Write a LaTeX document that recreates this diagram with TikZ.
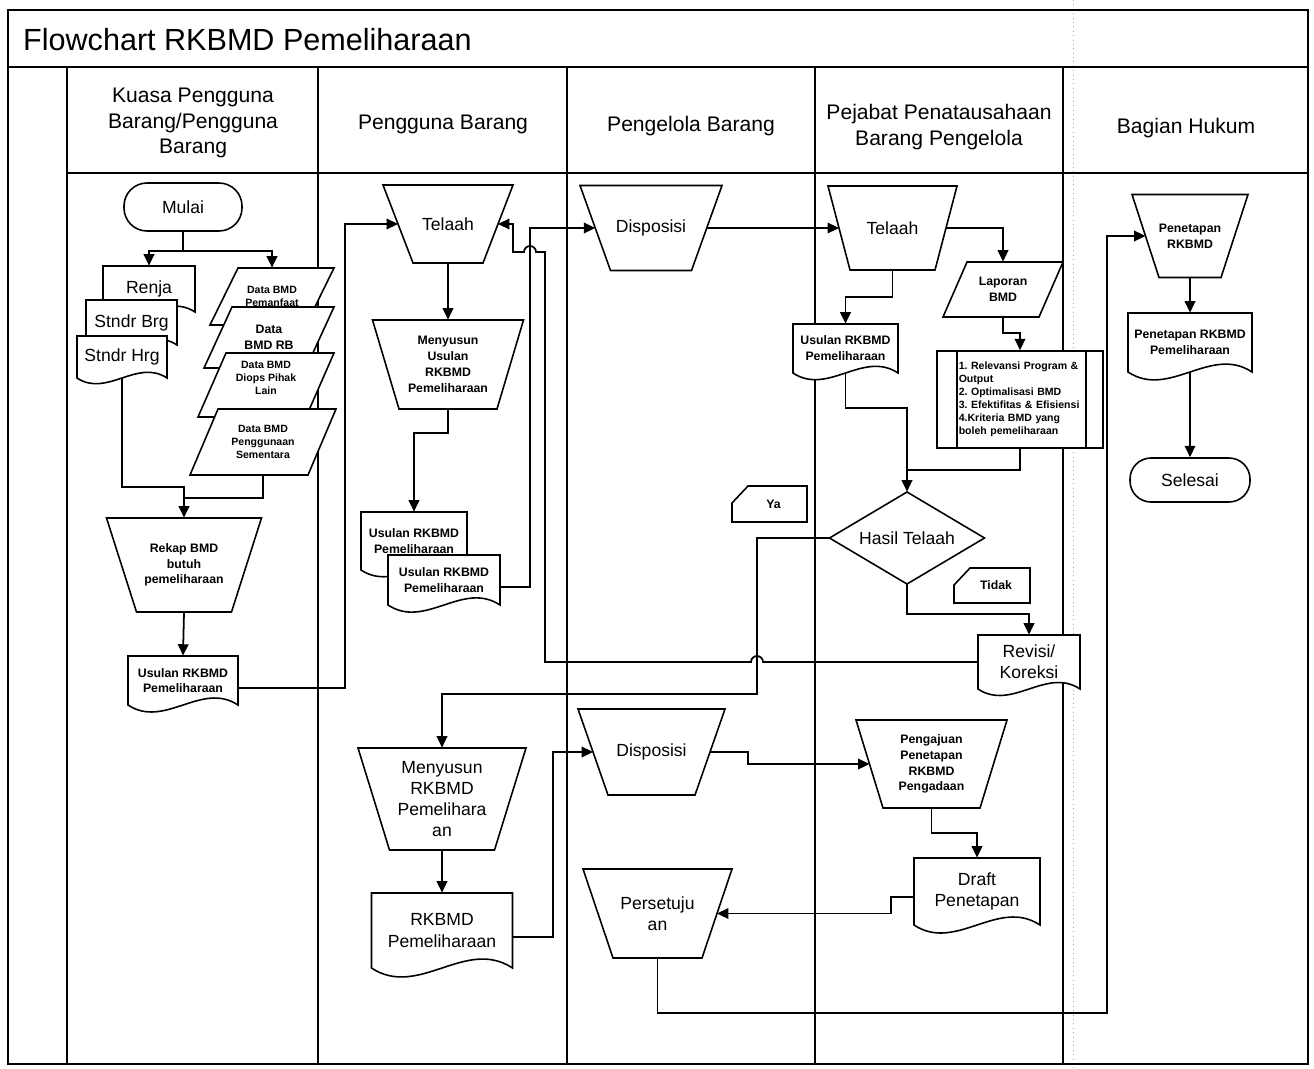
\documentclass[tikz,border=0pt]{standalone}
\usepackage{fontspec}
\setmainfont{Liberation Sans}
\usetikzlibrary{arrows.meta,calc}
\frenchspacing

\newcommand\ftitle{\fontsize{17.4}{20}\selectfont}
\newcommand\fhead{\fontsize{12}{14.4}\selectfont}
\newcommand\fmid{\fontsize{10}{12}\selectfont}
\newcommand\fsmall{\fontsize{7}{9}\selectfont\bfseries}
\newcommand\ftiny{\fontsize{6}{7.4}\selectfont\bfseries}

\tikzset{
  shp/.style={draw, fill=white, line width=0.9pt, line join=miter},
  tbox/.style={inner sep=0pt, align=center},
  conn/.style={line width=1pt},
  arr/.style={conn, -{Triangle[length=6.5pt,width=6pt]}},
  frame/.style={line width=1pt},
}

% manual operation (trapezoid, wide top): name cx cy wtop wbot h style text
\newcommand\mop[8]{%
  \filldraw[shp] ({#2-#4/2},{#3-#6/2}) -- ({#2+#4/2},{#3-#6/2}) -- ({#2+#5/2},{#3+#6/2}) -- ({#2-#5/2},{#3+#6/2}) -- cycle;
  \node[tbox, minimum width={#4*0.02cm}, minimum height={#6*0.02cm}, #7] (#1) at (#2,#3) {#8};
  \coordinate (#1w) at ({#2-(#4+#5)/4},#3);
  \coordinate (#1e) at ({#2+(#4+#5)/4},#3);
}
% document: name cx cy w h style text
\newcommand\docu[7]{%
  \filldraw[shp] ({#2-#4/2},{#3+#5/2}) -- ({#2-#4/2},{#3-#5/2}) -- ({#2+#4/2},{#3-#5/2}) -- ({#2+#4/2},{#3+#5/2}) .. controls ({#2+#4/6},{#3+#5/2-0.22*#4}) and ({#2-#4/6},{#3+#5/2+0.22*#4}) .. ({#2-#4/2},{#3+#5/2}) -- cycle;
  \node[tbox, minimum width={#4*0.02cm}, minimum height={#5*0.02cm}, #6] (#1) at (#2,#3) {#7};
}
% data (parallelogram): name cx cy w h slant style text
\newcommand\para[8]{%
  \filldraw[shp] ({#2-(#4+#6)/2},{#3+#5/2}) -- ({#2-(#4+#6)/2+#6},{#3-#5/2}) -- ({#2+(#4+#6)/2},{#3-#5/2}) -- ({#2+(#4+#6)/2-#6},{#3+#5/2}) -- cycle;
  \node[tbox, minimum width={(#4+#6)*0.02cm}, minimum height={#5*0.02cm}, #7] (#1) at (#2,#3) {#8};
}
% card label: name x1 y1 x2 y2 text
\newcommand\card[6]{%
  \filldraw[shp] (#2,{#3+17}) -- ({#2+16},#3) -- (#4,#3) -- (#4,#5) -- (#2,#5) -- cycle;
  \node[tbox, font=\fsmall] (#1) at ({(#2+#4)/2+4},{(#3+#5)/2}) {#6};
}

\begin{document}
\begin{tikzpicture}[x=0.02cm, y=-0.02cm]
\useasboundingbox (0,0) rectangle (1314,1068);

% frame and swimlanes
\draw[gray!70, dotted, line width=0.5pt] (1073,0) -- (1073,1068);
\draw[frame] (8,10) rectangle (1308,1064);
\draw[frame] (8,67) -- (1308,67);
\draw[frame] (67,173) -- (1308,173);
\foreach \x in {67,318,567,815,1063} \draw[frame] (\x,67) -- (\x,1064);

\node[anchor=west, font=\ftitle] (title) at (17,40) {Flowchart RKBMD Pemeliharaan};
\node[font=\fhead, align=center] (hk) at (193,123) {Kuasa Pengguna\\Barang/Pengguna\\Barang};
\node[font=\fhead] (hp) at (443,124) {Pengguna Barang};
\node[font=\fhead] (hg) at (691,126) {Pengelola Barang};
\node[font=\fhead, align=center] (hj) at (939,127) {Pejabat Penatausahaan\\Barang Pengelola};
\node[font=\fhead] (hb) at (1186,128) {Bagian Hukum};

% column 1
\node[shp, rounded corners=0.46cm, minimum width=2.36cm, minimum height=0.96cm, font=\fmid] (mulai) at (183,207) {Mulai};
\docu{renja}{149}{289}{92}{46}{font=\fmid}{Renja}
\docu{brg}{131.5}{322.5}{91}{45}{font=\fmid}{Stndr Brg}
\docu{hrg}{122}{357}{90}{42}{font=\fmid}{Stndr Hrg}
\para{p1}{272}{296.5}{96}{57}{28}{font=\ftiny}{Data BMD\\Pemanfaat}
\para{p2}{269}{337.5}{102}{61}{28}{font=\fsmall}{Data\\BMD RB}
\para{p3}{266}{385}{108}{64}{28}{font=\ftiny, yshift=0.14cm}{Data BMD\\Diops Pihak\\Lain}
\para{p4}{263}{442}{118}{66}{28}{font=\ftiny}{Data BMD\\Penggunaan\\Sementara}
\mop{rekap}{184}{565}{155}{95}{94}{font=\fsmall}{Rekap BMD\\butuh\\pemeliharaan}
\docu{us0}{183}{680.5}{110}{49}{font=\fsmall}{Usulan RKBMD\\Pemeliharaan}

% column 2
\mop{tl1}{448}{224}{130}{70}{78}{font=\fmid}{Telaah}
\mop{mu}{448}{364.5}{151}{98}{89}{font=\fsmall}{Menyusun\\Usulan\\RKBMD\\Pemeliharaan}
\docu{ua}{414}{541}{106}{58}{font=\fsmall}{Usulan RKBMD\\Pemeliharaan}
\docu{ub}{444}{580}{112}{50}{font=\fsmall}{Usulan RKBMD\\Pemeliharaan}
\mop{mr}{442}{799}{168}{105}{102}{font=\fmid}{Menyusun\\RKBMD\\Pemelihara\\an}
\docu{rk}{442}{930.5}{141}{75}{font=\fmid}{RKBMD\\Pemeliharaan}

% column 3
\mop{dsa}{651}{228}{142}{81}{85}{font=\fmid}{Disposisi}
\mop{dsb}{651.5}{752}{147}{87}{86}{font=\fmid}{Disposisi}
\mop{ps}{657.5}{913.5}{149}{89}{89}{font=\fmid}{Persetuju\\an}
\card{ya}{732}{486}{807}{522}{Ya}

% column 4
\mop{tlb}{892.5}{228}{129}{85}{84}{font=\fmid}{Telaah}
\para{lap}{1003}{289.5}{96}{55}{24}{font=\fsmall}{Laporan\\BMD}
\docu{uc}{845.5}{348.5}{105}{49}{font=\fsmall}{Usulan RKBMD\\Pemeliharaan}
\node[shp, inner sep=0pt, minimum width=3.32cm, minimum height=1.94cm, text width=2.45cm, align=left, font=\ftiny] (box) at (1020,399.5)
  {1. Relevansi Program \&\\Output\\2. Optimalisasi BMD\\3. Efektifitas \& Efisiensi\\4.Kriteria BMD yang\\boleh pemeliharaan};
\draw[line width=0.9pt] ([xshift=0.42cm]box.north west) -- ([xshift=0.42cm]box.south west);
\draw[line width=0.9pt] ([xshift=-0.36cm]box.north east) -- ([xshift=-0.36cm]box.south east);
\filldraw[shp] (829.5,538) -- (907,492) -- (984.5,538) -- (907,584) -- cycle;
\node[tbox, minimum width=3.1cm, minimum height=1.84cm, font=\fmid] (dia) at (907,538) {Hasil Telaah};
\card{tdk}{954}{568}{1030}{603}{Tidak}
\docu{rv}{1029}{662}{102}{54}{font=\fmid}{Revisi/\\Koreksi}
\mop{pj}{931.5}{764}{151}{97}{88}{font=\fsmall}{Pengajuan\\Penetapan\\RKBMD\\Pengadaan}
\docu{dr}{977}{891.5}{126}{67}{font=\fmid}{Draft\\Penetapan}

% column 5
\mop{pn}{1190}{236}{116}{62}{83}{font=\fsmall}{Penetapan\\RKBMD}
\docu{pd}{1190}{342.5}{124}{59}{font=\fsmall}{Penetapan RKBMD\\Pemeliharaan}
\node[shp, rounded corners=0.42cm, minimum width=2.4cm, minimum height=0.88cm, font=\fmid] (sel) at (1190,480) {Selesai};

% connectors
\draw[arr] (mulai.south) -- ++(0,19) -| (renja.north);
\draw[arr] (mulai.south) -- ++(0,19) -| (p1.north);
\draw[arr] (hrg.south) -- (hrg.south |- 0,487) -| (rekap.north);
\draw[conn] (p4.south) |- (rekap.north |- 0,498);
\draw[arr] (rekap.south) -- (us0.north);
\draw[arr] ([yshift=-0.15cm]us0.east) -- ++(107,0) |- (tl1w);
\draw[arr] (tl1.south) -- (mu.north);
\draw[arr] (mu.south) -- ++(0,24) -| (ua.north);
\draw[arr] ([yshift=-0.14cm]ub.east) -- ++(30,0) |- (dsaw);
\draw[arr] (rv.west) -- (763,662) arc[start angle=0, end angle=180, radius=0.12cm] -- (545,662) -- (545,252) -- (536,252) arc[start angle=0, end angle=180, radius=0.12cm] -- (513,252) -- (513,224) -- (tl1e);
\draw[arr] (dsae) -- (tlbw);
\draw[arr] (tlbe) -| (lap.north);
\draw[arr] (tlb.south) -- ++(0,27) -| (uc.north);
\draw[arr] (lap.south) -- ++(0,16) -| (box.north);
\draw[arr] (uc.south) -- ++(0,35) -| (dia.north);
\draw[conn] (box.south) |- (dia.north |- 0,470);
\draw[arr] (dia.west) -- (757,538) -- (757,694) -| (mr.north);
\draw[arr] (dia.south) -- ++(0,30) -| (rv.north);
\draw[arr] (mr.south) -- (rk.north);
\draw[arr] ([yshift=-0.13cm]rk.east) -- ++(40,0) |- (dsbw);
\draw[arr] (dsbe) -- ++(38,0) |- (pjw);
\draw[arr] (pj.south) -- ++(0,25) -| (dr.north);
\draw[arr] ([yshift=-0.11cm]dr.west) -- ++(-23,0) |- (pse);
\draw[arr] (ps.south) |- (1107,1013) |- (pnw);
\draw[arr] (pn.south) -- (pd.north);
\draw[arr] (pd.south) -- (sel.north);
\end{tikzpicture}
\end{document}
